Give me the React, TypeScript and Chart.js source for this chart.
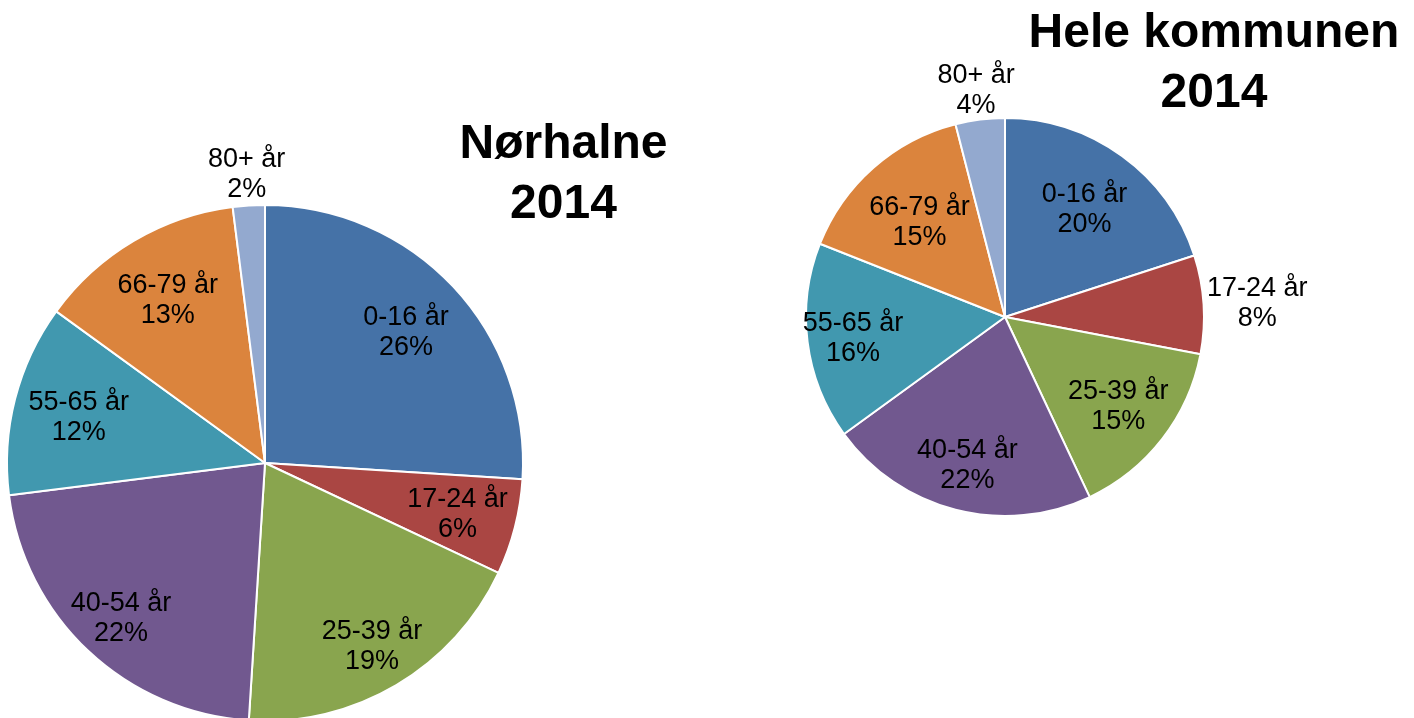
import React, { useEffect, useRef } from "react";
import { Chart, registerables } from "chart.js";

Chart.register(...registerables);

const categories = ["0-16 år", "17-24 år", "25-39 år", "40-54 år", "55-65 år", "66-79 år", "80+ år"];
const norhalneValues = [26, 6, 19, 22, 12, 13, 2];
const kommunenValues = [20, 8, 15, 22, 16, 15, 4];
const norhalneTitle = ["Nørhalne", "2014"];
const kommunenTitle = ["Hele kommunen", "2014"];

const sliceColors = ["#4572A7", "#AA4643", "#89A54E", "#71588F", "#4198AF", "#DB843D", "#93A9CF"];
const FONT = '"Liberation Sans", Arial, Helvetica, sans-serif';

// label distance from center, as a fraction of the radius
const norhalneLabelPos = [0.75, 0.77, 0.815, 0.815, 0.745, 0.74, 1.13];
const kommunenLabelPos = [0.68, 1.27, 0.72, 0.76, 0.77, 0.65, 1.16];

function makeLabelPlugin(factors: number[]) {
  return {
    id: "sliceLabels",
    afterDatasetsDraw(chart: any) {
      const ctx = chart.ctx;
      const meta = chart.getDatasetMeta(0);
      const data = chart.data.datasets[0].data as number[];
      const size = 27;
      ctx.save();
      ctx.font = `${size}px ${FONT}`;
      ctx.fillStyle = "#000";
      ctx.textAlign = "center";
      ctx.textBaseline = "alphabetic";
      const half = (0.716 * size) / 2;
      meta.data.forEach((arc: any, i: number) => {
        const p = arc.getProps(["x", "y", "startAngle", "endAngle", "outerRadius"], true);
        const mid = (p.startAngle + p.endAngle) / 2;
        const r = p.outerRadius * factors[i];
        const px = p.x + Math.cos(mid) * r;
        const py = p.y + Math.sin(mid) * r;
        ctx.fillText(String(chart.data.labels[i]), px, py - 15 + half);
        ctx.fillText(`${data[i]}%`, px, py + 15 + half);
      });
      ctx.restore();
    },
  };
}

type PieProps = {
  values: number[];
  factors: number[];
  left: number;
  width: number;
  height: number;
  padding: { left: number; right: number; top: number; bottom: number };
};

function PieCanvas({ values, factors, left, width, height, padding }: PieProps) {
  const ref = useRef<HTMLCanvasElement | null>(null);
  useEffect(() => {
    if (!ref.current) return;
    const chart = new Chart(ref.current, {
      type: "pie",
      data: {
        labels: categories,
        datasets: [
          {
            data: values,
            backgroundColor: sliceColors,
            borderColor: "#ffffff",
            borderWidth: 2,
          },
        ],
      },
      options: {
        responsive: false,
        animation: false,
        devicePixelRatio: 1,
        layout: { padding },
        plugins: {
          legend: { display: false },
          tooltip: { enabled: false },
          title: { display: false },
        },
      },
      plugins: [makeLabelPlugin(factors)],
    });
    return () => chart.destroy();
  }, []);
  return (
    <canvas
      ref={ref}
      width={width}
      height={height}
      style={{ position: "absolute", left, top: 0, width, height }}
    />
  );
}

function Title({ lines, cx, cy }: { lines: string[]; cx: number; cy: number }) {
  return (
    <div
      style={{
        position: "absolute",
        left: cx - 300,
        top: cy - 29.4,
        width: 600,
        textAlign: "center",
        fontFamily: FONT,
        fontWeight: "bold",
        fontSize: 48,
        lineHeight: "60px",
        color: "#000",
      }}
    >
      {lines.map((l, i) => (
        <div key={i}>{l}</div>
      ))}
    </div>
  );
}

export default function App() {
  return (
    <div
      style={{
        position: "absolute",
        left: 0,
        top: 0,
        width: 1414,
        height: 718,
        overflow: "hidden",
        background: "#ffffff",
      }}
    >
      <PieCanvas
        values={norhalneValues}
        factors={norhalneLabelPos}
        left={0}
        width={700}
        height={730}
        padding={{ left: 6, right: 176, top: 204, bottom: 8 }}
      />
      <PieCanvas
        values={kommunenValues}
        factors={kommunenLabelPos}
        left={700}
        width={714}
        height={718}
        padding={{ left: 105, right: 209, top: 117, bottom: 201 }}
      />
      <Title lines={norhalneTitle} cx={563.5} cy={141} />
      <Title lines={kommunenTitle} cx={1214} cy={30} />
    </div>
  );
}
